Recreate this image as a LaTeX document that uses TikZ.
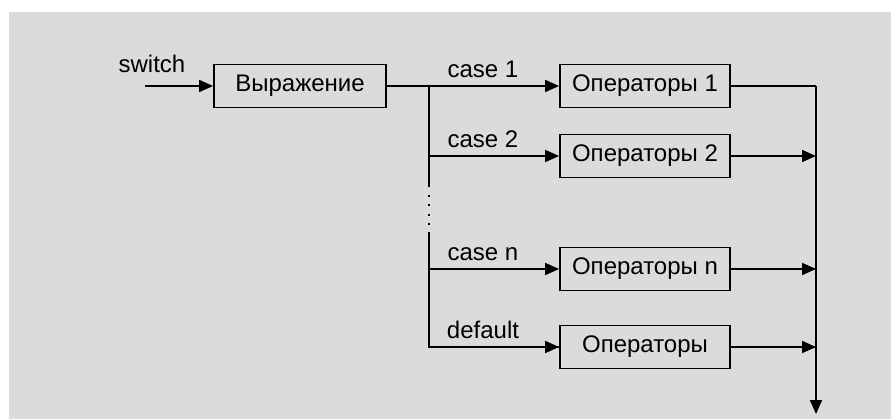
\documentclass[tikz,border=0pt]{standalone}
\usepackage{fontspec}
\setmainfont{Liberation Sans}
\definecolor{scangray}{HTML}{DBDBDB}
\usetikzlibrary{positioning, arrows.meta, calc}
\tikzset{
	blocknode/.style={
			draw=black,
			line width=1.8pt,
			rectangle,
			minimum height=43pt,
			inner sep=0pt,
			font=\fontsize{24}{28}\selectfont
		},
	opnode/.style={
			blocknode,
			minimum width=170pt
		},
	labelnode/.style={
			anchor=base,
			inner sep=0pt,
			font=\fontsize{24}{28}\selectfont
		},
	flowline/.style={
			line width=1.8pt,
			draw=black
		},
	flowarrow/.style={
			flowline,
			-{Triangle[length=14pt,width=12pt]}
		}
}

\begin{document}
\begin{tikzpicture}[x=1pt,y=-1pt]
\useasboundingbox (0,0) rectangle (891,419);
\fill[white] (0,0) rectangle (891,419);
\fill[scangray] (9,12) rectangle (891,419);

\node[labelnode] (tSwitch) at (152,73) {switch};
\coordinate (tIn) at (145,86);
\node[blocknode, minimum width=172pt] (tExpr) at (300,86) {Выражение};

\node[opnode] (tOp1) at (645,86) {Операторы 1};
\node[opnode] (tOp2) at (645,156) {Операторы 2};
\node[opnode] (tOpN) at (645,269) {Операторы n};
\node[opnode] (tOpD) at (645,347) {Операторы};

\node[labelnode] (tCase1) at (483,78) {case 1};
\node[labelnode] (tCase2) at (483,148) {case 2};
\node[labelnode] (tCaseN) at (483,261) {case n};
\node[labelnode] (tDefault) at (483,339) {default};

\coordinate (tSplit) at (429,86);
\coordinate (tGapTop) at (429,187);
\coordinate (tGapBot) at (429,232);
\coordinate (tSplitEnd) at (429,347);
\coordinate (tJoin) at (816,86);
\coordinate (tOut) at (816,414);

\draw[flowarrow] (tIn) -- (tExpr);
\draw[flowline] (tExpr) -- (tSplit);
\draw[flowarrow] (tSplit) -- (tOp1);
\draw[flowline] (tSplit) -- (tGapTop);
\draw[flowline, line width=2pt, dash pattern=on 2pt off 7.5pt] ($(tGapTop)+(0,8)$) -- ($(tGapBot)+(0,-6)$);
\draw[flowline] (tGapBot) |- (tOpN.west -| tSplit);
\draw[flowline] (tOpN.west -| tSplit) |- (tOpD);

\draw[flowarrow] (tSplit |- tOp2) -- (tOp2);
\draw[flowarrow] (tSplit |- tOpN) -- (tOpN);
\draw[flowarrow] (tSplitEnd) -- (tOpD);

\draw[flowline] (tOp1) -- (tJoin);
\draw[flowarrow] (tJoin) -- (tOut);
\draw[flowarrow] (tOp2) -- (tJoin |- tOp2);
\draw[flowarrow] (tOpN) -- (tJoin |- tOpN);
\draw[flowarrow] (tOpD) -- (tJoin |- tOpD);

\end{tikzpicture}
\end{document}
